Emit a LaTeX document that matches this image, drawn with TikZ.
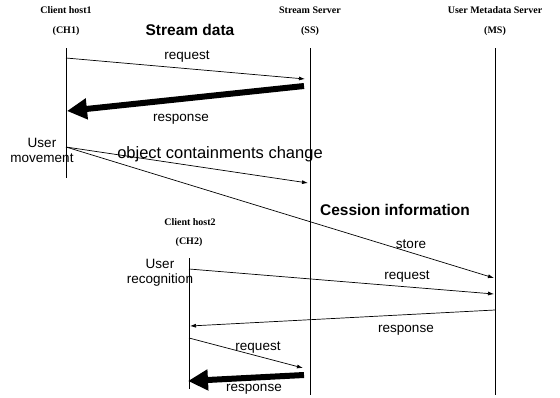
\documentclass[tikz,border=0pt]{standalone}
\usepackage{fontspec}
\setmainfont{Liberation Sans}
\newfontfamily\hdrfont{Liberation Serif}
\usetikzlibrary{arrows.meta}
\begin{document}
\begin{tikzpicture}[x=1pt,y=-1pt,
  life/.style={line width=0.9pt},
  hdr/.style={font=\hdrfont\bfseries\fontsize{10}{11}\selectfont, inner sep=0pt},
  msg/.style={line width=0.7pt,-{Latex[length=6pt,width=4pt]}},
  bigmsg/.style={line width=6pt,-{Triangle[length=20pt,width=20pt]}},
  lbl/.style={font=\fontsize{13.5}{15}\selectfont, inner sep=0pt},
  ttl/.style={font=\bfseries\fontsize{15.5}{17}\selectfont, inner sep=0pt}]
\useasboundingbox (0,0) rectangle (560,397);

% headers
\node[hdr] (ch1a) at (66,10) {Client host1};
\node[hdr] (ch1b) at (66,31) {(CH1)};
\node[hdr] (ssa) at (310,10) {Stream Server};
\node[hdr] (ssb) at (310,31) {(SS)};
\node[hdr] (msa) at (495,10) {User Metadata Server};
\node[hdr] (msb) at (495,31) {(MS)};
\node[hdr] (ch2a) at (190,222) {Client host2};
\node[hdr] (ch2b) at (189,242) {(CH2)};

\node[ttl] (title1) at (190,30) {Stream data};
\node[ttl] (title2) at (395,210) {Cession information};

% lifelines
\coordinate (ch1t) at (66,48);  \coordinate (ch1e) at (66,178);
\coordinate (sst) at (310,48);  \coordinate (sse) at (310,395);
\coordinate (mst) at (495,48);  \coordinate (mse) at (495,395);
\coordinate (ch2t) at (189,258); \coordinate (ch2e) at (189,389);
\draw[life] (ch1t) -- (ch1e);
\draw[life] (sst) -- (sse);
\draw[life] (mst) -- (mse);
\draw[life] (ch2t) -- (ch2e);

% message end points
\coordinate (r1s) at (66,58);   \coordinate (r1e) at (305,79);
\coordinate (p1s) at (304,86);  \coordinate (p1e) at (67,111);
\coordinate (mv) at (66,147);
\coordinate (oce) at (308,183);
\coordinate (ste) at (494,278);
\coordinate (r2s) at (189,269); \coordinate (r2e) at (494,294);
\coordinate (p2s) at (495,310); \coordinate (p2e) at (190,326);
\coordinate (r3s) at (189,338); \coordinate (r3e) at (303,368);
\coordinate (p3s) at (304,375); \coordinate (p3e) at (188,381);

\draw[msg] (r1s) -- (r1e);
\draw[bigmsg] (p1s) -- (p1e);
\draw[msg] (mv) -- (oce);
\draw[msg] (mv) -- (ste);
\draw[msg] (r2s) -- (r2e);
\draw[msg] (p2s) -- (p2e);
\draw[msg] (r3s) -- (r3e);
\draw[bigmsg] (p3s) -- (p3e);

% labels
\node[lbl] (l1) at (187,57) {request};
\node[lbl] (l2) at (181,119) {response};
\node[lbl, align=center] (um) at (42,150) {User\\movement};
\node[lbl, font=\fontsize{16.5}{18}\selectfont] (oc) at (220,154) {object containments change};
\node[lbl] (l3) at (411,244) {store};
\node[lbl] (l4) at (407,277) {request};
\node[lbl, align=center] (ur) at (160,273) {User\\recognition};
\node[lbl] (l5) at (406,330) {response};
\node[lbl] (l6) at (258,348) {request};
\node[lbl] (l7) at (254,389) {response};
\end{tikzpicture}
\end{document}
